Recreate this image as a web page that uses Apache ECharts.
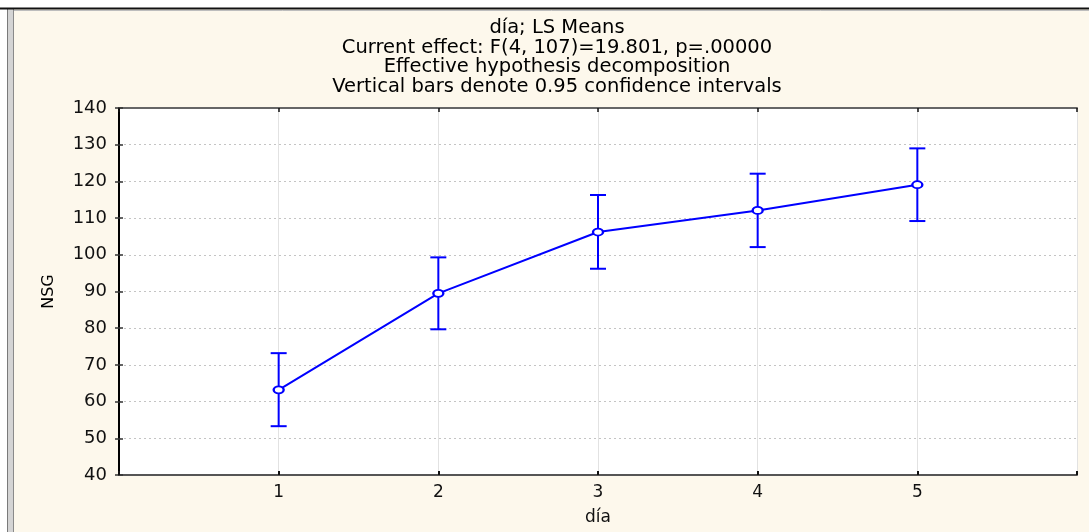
<!DOCTYPE html>
<html>
<head>
<meta charset="utf-8">
<script src="https://cdn.jsdelivr.net/npm/echarts@6/dist/echarts.min.js"></script>
<style>
html,body{margin:0;padding:0;background:#fff;}
#chart{width:1089px;height:532px;}
</style>
</head>
<body>
<div id="chart"></div>
<script>
// ---- data ----
const categories = [1, 2, 3, 4, 5];
const means = [63.2, 89.5, 106.2, 112.1, 119.1];
const lower = [53.3, 79.7, 96.2, 102.1, 109.2];
const upper = [73.2, 99.3, 116.3, 122.1, 129.0];
const yTicks = [40, 50, 60, 70, 80, 90, 100, 110, 120, 130, 140];
const titleLines = [
  'día; LS Means',
  'Current effect: F(4, 107)=19.801, p=.00000',
  'Effective hypothesis decomposition',
  'Vertical bars denote 0.95 confidence intervals'
];
const xName = 'día';
const yName = 'NSG';

const FONT = 'DejaVu Sans';
const BLUE = '#0000ff';

const chart = echarts.init(document.getElementById('chart'), null, {renderer: 'canvas'});

const lineData = categories.map((c, i) => [c, means[i]]);
const errData = categories.map((c, i) => [c, lower[i], upper[i]]);

const option = {
  backgroundColor: '#fdf8ec',
  animation: false,
  title: {
    text: titleLines.join('\n'),
    left: 552,
    top: 13,
    textAlign: 'center',
    textStyle: {fontFamily: FONT, fontSize: 19.5, fontWeight: 'normal', color: '#000', lineHeight: 19.7}
  },
  graphic: [
    {type: 'rect', shape: {x: 0, y: 0, width: 1089, height: 8}, style: {fill: '#ffffff'}, z: 100},
    {type: 'rect', shape: {x: 0, y: 0, width: 7, height: 532}, style: {fill: '#ffffff'}, z: 100},
    {type: 'rect', shape: {x: 7, y: 8, width: 7, height: 524}, style: {fill: '#d4d4d4'}, z: 100},
    {type: 'line', shape: {x1: 7.5, y1: 8, x2: 7.5, y2: 532}, style: {stroke: '#7a7a7a', lineWidth: 1}, z: 101},
    {type: 'line', shape: {x1: 13.5, y1: 8, x2: 13.5, y2: 532}, style: {stroke: '#8a8a8a', lineWidth: 1}, z: 101},
    {type: 'line', shape: {x1: 0, y1: 8.5, x2: 1089, y2: 8.5}, style: {stroke: '#111', lineWidth: 2}, z: 101},
    {type: 'line', shape: {x1: 14, y1: 10.5, x2: 1089, y2: 10.5}, style: {stroke: '#bdbdbd', lineWidth: 1}, z: 101}
  ],
  grid: {left: 119, top: 108, right: 12, bottom: 57, containLabel: false,
    show: true, backgroundColor: '#ffffff', borderWidth: 0},
  xAxis: [{
    type: 'value', min: 0, max: 6, interval: 1, position: 'bottom',
    name: xName, nameLocation: 'middle', nameGap: 34,
    nameTextStyle: {fontFamily: FONT, fontSize: 17, color: '#111'},
    axisLine: {show: true, lineStyle: {color: '#555', width: 2}},
    axisTick: {show: true, inside: true, length: 4, lineStyle: {color: '#111', width: 2}},
    axisLabel: {fontFamily: FONT, fontSize: 17, color: '#111', margin: 9,
      formatter: v => (v >= 1 && v <= 5 ? String(v) : '')},
    splitLine: {show: true, lineStyle: {color: '#e2e2e2', width: 1}}
  }, {
    type: 'value', min: 0, max: 6, interval: 1, position: 'top',
    axisLine: {show: true, lineStyle: {color: '#666', width: 2}},
    axisTick: {show: true, inside: true, length: 4, lineStyle: {color: '#111', width: 1.5}},
    axisLabel: {show: false},
    splitLine: {show: false}
  }],
  yAxis: [{
    type: 'value', min: yTicks[0], max: yTicks[yTicks.length - 1], interval: 10, position: 'left',
    name: yName, nameLocation: 'middle', nameGap: 62, nameRotate: 90,
    nameTextStyle: {fontFamily: FONT, fontSize: 16, color: '#000'},
    axisLine: {show: true, lineStyle: {color: '#000', width: 2}},
    axisTick: {show: true, inside: true, length: 4, lineStyle: {color: '#333', width: 1.5}},
    axisLabel: {fontFamily: FONT, fontSize: 18, color: '#111', margin: 12},
    splitLine: {show: true, lineStyle: {color: '#c4c4c4', width: 1, type: [2, 3]}}
  }, {
    type: 'value', min: yTicks[0], max: yTicks[yTicks.length - 1], interval: 10, position: 'right',
    axisLine: {show: true, lineStyle: {color: '#000', width: 2}},
    axisTick: {show: true, inside: true, length: 4, lineStyle: {color: '#333', width: 1.5}},
    axisLabel: {show: false},
    splitLine: {show: false}
  }],
  series: [{
    type: 'custom',
    xAxisIndex: 0, yAxisIndex: 0,
    data: errData,
    z: 3,
    renderItem: function (params, api) {
      const x = api.value(0);
      const lo = api.coord([x, api.value(1)]);
      const hi = api.coord([x, api.value(2)]);
      const half = 8;
      const st = {stroke: BLUE, lineWidth: 2, fill: null};
      return {
        type: 'group',
        children: [
          {type: 'line', shape: {x1: lo[0], y1: lo[1], x2: hi[0], y2: hi[1]}, style: st},
          {type: 'line', shape: {x1: lo[0] - half, y1: lo[1], x2: lo[0] + half, y2: lo[1]}, style: st},
          {type: 'line', shape: {x1: hi[0] - half, y1: hi[1], x2: hi[0] + half, y2: hi[1]}, style: st}
        ]
      };
    }
  }, {
    type: 'line',
    xAxisIndex: 0, yAxisIndex: 0,
    data: lineData,
    z: 4,
    lineStyle: {color: BLUE, width: 2},
    symbol: 'circle',
    symbolSize: [10, 7],
    itemStyle: {color: '#ffffff', borderColor: BLUE, borderWidth: 2},
    emphasis: {disabled: true}
  }]
};
chart.setOption(option);
</script>
</body>
</html>
